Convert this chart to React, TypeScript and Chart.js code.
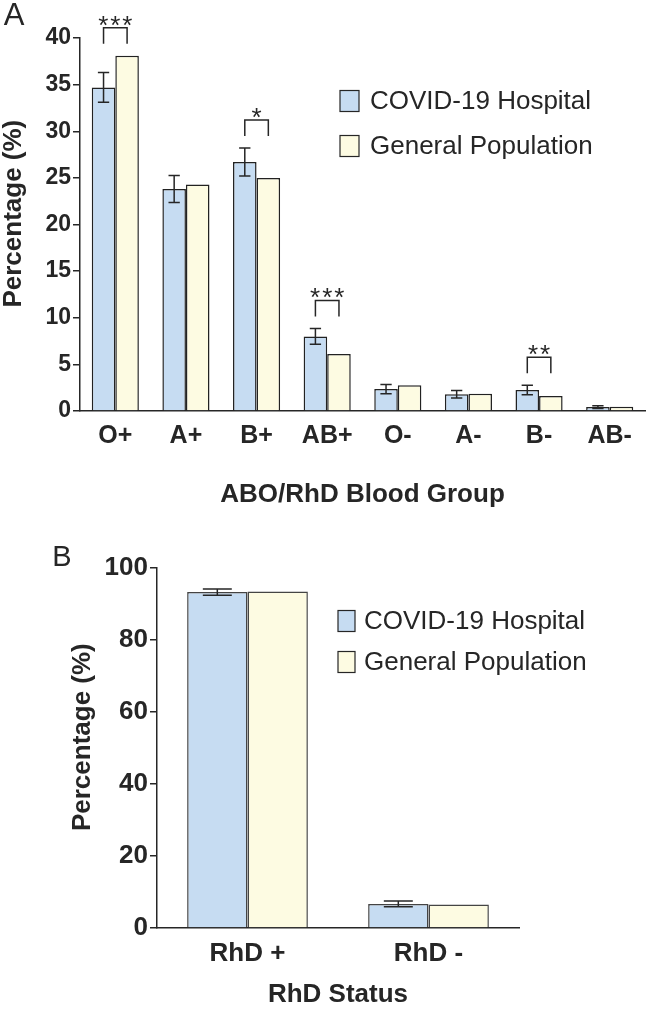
import React, { useEffect, useRef } from "react";
import { Chart, registerables } from "chart.js";

Chart.register(...registerables);

// ---------- Data ----------
const seriesLabels = ["COVID-19 Hospital", "General Population"];

const bloodGroups = ["O+", "A+", "B+", "AB+", "O-", "A-", "B-", "AB-"];
const hospitalPct = [34.7, 23.8, 26.7, 8.0, 2.35, 1.8, 2.25, 0.42];
const hospitalErr = [1.6, 1.45, 1.5, 0.85, 0.5, 0.4, 0.5, 0.15];
const generalPct = [38.1, 24.3, 25.0, 6.1, 2.75, 1.85, 1.6, 0.45];
const groupSigIndex = [0, 2, 3, 6];
const groupSigLabel = ["***", "*", "***", "**"];
const groupYTicks = [0, 5, 10, 15, 20, 25, 30, 35, 40];

const rhdStatus = ["RhD +", "RhD -"];
const rhdHospitalPct = [93.3, 6.7];
const rhdHospitalErr = [0.9, 0.8];
const rhdGeneralPct = [93.5, 6.5];
const rhdYTicks = [0, 20, 40, 60, 80, 100];

// ---------- Styles ----------
const FONT = "'Liberation Sans', Arial, Helvetica, sans-serif";
const INK = "#262626";
const BLUE = "#c6dcf2";
const YELLOW = "#fdfbe2";

// ---------- Plugins ----------
const errorBarPlugin = {
  id: "errorBars",
  afterDatasetsDraw(chart: any, _args: any, opts: any) {
    const errs: number[] = opts && opts.errors;
    if (!errs) return;
    const meta = chart.getDatasetMeta(0);
    const ys = chart.scales.y;
    const ctx = chart.ctx;
    const data = chart.data.datasets[0].data as number[];
    ctx.save();
    ctx.strokeStyle = INK;
    ctx.lineWidth = 1.5;
    meta.data.forEach((bar: any, i: number) => {
      const v = data[i];
      const e = errs[i];
      const yTop = ys.getPixelForValue(v + e);
      const yBot = ys.getPixelForValue(v - e);
      const { x, width } = bar.getProps(["x", "width"], true);
      const half = (width * opts.capRatio) / 2;
      ctx.beginPath();
      ctx.moveTo(x, yTop);
      ctx.lineTo(x, yBot);
      ctx.moveTo(x - half, yTop);
      ctx.lineTo(x + half, yTop);
      ctx.moveTo(x - half, yBot);
      ctx.lineTo(x + half, yBot);
      ctx.stroke();
    });
    ctx.restore();
  },
};

const bracketPlugin = {
  id: "brackets",
  afterDraw(chart: any, _args: any, opts: any) {
    if (!opts || !opts.indices) return;
    const ctx = chart.ctx;
    const ys = chart.scales.y;
    const m0 = chart.getDatasetMeta(0);
    const m1 = chart.getDatasetMeta(1);
    const d0 = chart.data.datasets[0].data as number[];
    const d1 = chart.data.datasets[1].data as number[];
    const errs: number[] = opts.errors;
    ctx.save();
    ctx.strokeStyle = INK;
    ctx.fillStyle = INK;
    ctx.lineWidth = 1.5;
    opts.indices.forEach((i: number, k: number) => {
      const x0 = m0.data[i].x;
      const x1 = m1.data[i].x;
      const t0 = ys.getPixelForValue(d0[i] + errs[i]);
      const t1 = ys.getPixelForValue(d1[i]);
      const legBottom = Math.min(t0, t1) - 12;
      const top = legBottom - 16;
      ctx.beginPath();
      ctx.moveTo(x0, legBottom);
      ctx.lineTo(x0, top);
      ctx.lineTo(x1, top);
      ctx.lineTo(x1, legBottom);
      ctx.stroke();
      ctx.font = `26px ${FONT}`;
      ctx.textAlign = "center";
      ctx.textBaseline = "alphabetic";
      const spacing = 2;
      (ctx as any).letterSpacing = `${spacing}px`;
      ctx.fillText(opts.labels[k], (x0 + x1) / 2 + spacing / 2, top + 6);
    });
    ctx.restore();
  },
};

const legendPlugin = {
  id: "panelLegend",
  afterDraw(chart: any, _args: any, opts: any) {
    if (!opts || opts.x == null) return;
    const ctx = chart.ctx;
    ctx.save();
    chart.data.datasets.forEach((ds: any, i: number) => {
      const cy = opts.y + i * opts.gap;
      ctx.fillStyle = ds.backgroundColor;
      ctx.fillRect(opts.x, cy - opts.h / 2, opts.w, opts.h);
      ctx.strokeStyle = INK;
      ctx.lineWidth = 1.2;
      ctx.strokeRect(opts.x, cy - opts.h / 2, opts.w, opts.h);
      ctx.fillStyle = INK;
      ctx.font = `${opts.size}px ${FONT}`;
      ctx.textAlign = "left";
      ctx.textBaseline = "middle";
      ctx.fillText(ds.label, opts.x + opts.w + opts.textGap, cy + 1);
    });
    ctx.restore();
  },
};

const letterPlugin = {
  id: "panelLetter",
  afterDraw(chart: any, _args: any, opts: any) {
    if (!opts || !opts.text) return;
    const ctx = chart.ctx;
    ctx.save();
    ctx.fillStyle = INK;
    ctx.font = `${opts.size}px ${FONT}`;
    ctx.textAlign = "center";
    ctx.textBaseline = "middle";
    ctx.fillText(opts.text, opts.x, opts.y);
    ctx.restore();
  },
};

// ---------- Panel component ----------
type PanelProps = {
  width: number;
  height: number;
  top: number;
  labels: string[];
  hospital: number[];
  general: number[];
  errors: number[];
  sigIndex: number[];
  sigLabel: string[];
  yTicks: number[];
  xTitle: string;
  padding: { left: number; top: number; right: number; bottom: number };
  yWidth: number;
  xHeight: number;
  yTitlePad: number;
  yTickSize: number;
  xTickSize: number;
  xTickPad: number;
  legend: any;
  letter: any;
  borderColor: string;
};

function Panel(p: PanelProps) {
  const ref = useRef<HTMLCanvasElement | null>(null);
  useEffect(() => {
    if (!ref.current) return;
    const yMin = p.yTicks[0];
    const yMax = p.yTicks[p.yTicks.length - 1];
    const step = p.yTicks[1] - p.yTicks[0];
    const chart = new Chart(ref.current, {
      type: "bar",
      data: {
        labels: p.labels,
        datasets: [
          {
            label: seriesLabels[0],
            data: p.hospital,
            backgroundColor: BLUE,
            borderColor: p.borderColor,
            borderWidth: 1.5,
            categoryPercentage: 0.667,
            barPercentage: 1.0,
          },
          {
            label: seriesLabels[1],
            data: p.general,
            backgroundColor: YELLOW,
            borderColor: p.borderColor,
            borderWidth: 1.5,
            categoryPercentage: 0.667,
            barPercentage: 1.0,
          },
        ],
      },
      options: {
        responsive: false,
        animation: false,
        devicePixelRatio: 1,
        layout: { padding: p.padding },
        plugins: {
          legend: { display: false },
          tooltip: { enabled: false },
          title: { display: false },
          errorBars: { errors: p.errors, capRatio: 0.48 },
          brackets: { indices: p.sigIndex, labels: p.sigLabel, errors: p.errors },
          panelLegend: p.legend,
          panelLetter: p.letter,
        } as any,
        scales: {
          x: {
            type: "category",
            offset: true,
            grid: { display: false, drawTicks: false },
            border: { display: true, color: INK, width: 1.5 },
            ticks: {
              color: INK,
              font: { family: FONT, size: p.xTickSize, weight: "bold" },
              padding: p.xTickPad,
              maxRotation: 0,
              autoSkip: false,
            },
            title: {
              display: true,
              text: p.xTitle,
              color: INK,
              font: { family: FONT, size: 26, weight: "bold", lineHeight: 1 },
              padding: 0,
            },
            afterFit: (s: any) => {
              s.height = p.xHeight;
            },
          },
          y: {
            min: yMin,
            max: yMax,
            ticks: {
              stepSize: step,
              color: INK,
              font: { family: FONT, size: p.yTickSize, weight: "bold" },
              padding: 2,
            },
            grid: {
              drawOnChartArea: false,
              drawTicks: true,
              tickLength: 7,
              color: INK,
              lineWidth: 1.5,
            },
            border: { display: true, color: INK, width: 1.5 },
            title: {
              display: true,
              text: "\u00a0\u00a0\u00a0Percentage (%)",
              color: INK,
              font: { family: FONT, size: 26, weight: "bold", lineHeight: 1 },
              padding: { top: p.yTitlePad, bottom: 0 },
            },
            afterFit: (s: any) => {
              s.width = p.yWidth;
            },
          },
        },
      } as any,
      plugins: [errorBarPlugin, bracketPlugin, legendPlugin, letterPlugin],
    });
    return () => chart.destroy();
  }, []);
  return (
    <canvas
      ref={ref}
      width={p.width}
      height={p.height}
      style={{ position: "absolute", left: 0, top: p.top, width: p.width, height: p.height }}
    />
  );
}

export default function App() {
  return (
    <div style={{ position: "absolute", left: 0, top: 0, width: 646, height: 1011, background: "#fff" }}>
      <Panel
        width={646}
        height={520}
        top={0}
        labels={bloodGroups}
        hospital={hospitalPct}
        general={generalPct}
        errors={hospitalErr}
        sigIndex={groupSigIndex}
        sigLabel={groupSigLabel}
        yTicks={groupYTicks}
        xTitle="ABO/RhD Blood Group"
        padding={{ left: 0, top: 38, right: 1, bottom: 12 }}
        yWidth={80}
        xHeight={97}
        yTitlePad={1}
        yTickSize={23}
        xTickSize={25}
        xTickPad={10}
        legend={{ x: 340, y: 101, gap: 45, w: 19, h: 21, size: 26, textGap: 11 }}
        letter={{ text: "A", x: 14, y: 16, size: 31 }}
        borderColor="#222"
      />
      <Panel
        width={646}
        height={491}
        top={520}
        labels={rhdStatus}
        hospital={rhdHospitalPct}
        general={rhdGeneralPct}
        errors={rhdHospitalErr}
        sigIndex={[]}
        sigLabel={[]}
        yTicks={rhdYTicks}
        xTitle="RhD Status"
        padding={{ left: 67, top: 48, right: 127, bottom: 3 }}
        yWidth={90}
        xHeight={80}
        yTitlePad={3}
        yTickSize={26}
        xTickSize={26}
        xTickPad={10}
        legend={{ x: 338, y: 101, gap: 41, w: 17, h: 21, size: 26, textGap: 9 }}
        letter={{ text: "B", x: 62, y: 38, size: 29 }}
        borderColor="#444"
      />
    </div>
  );
}
